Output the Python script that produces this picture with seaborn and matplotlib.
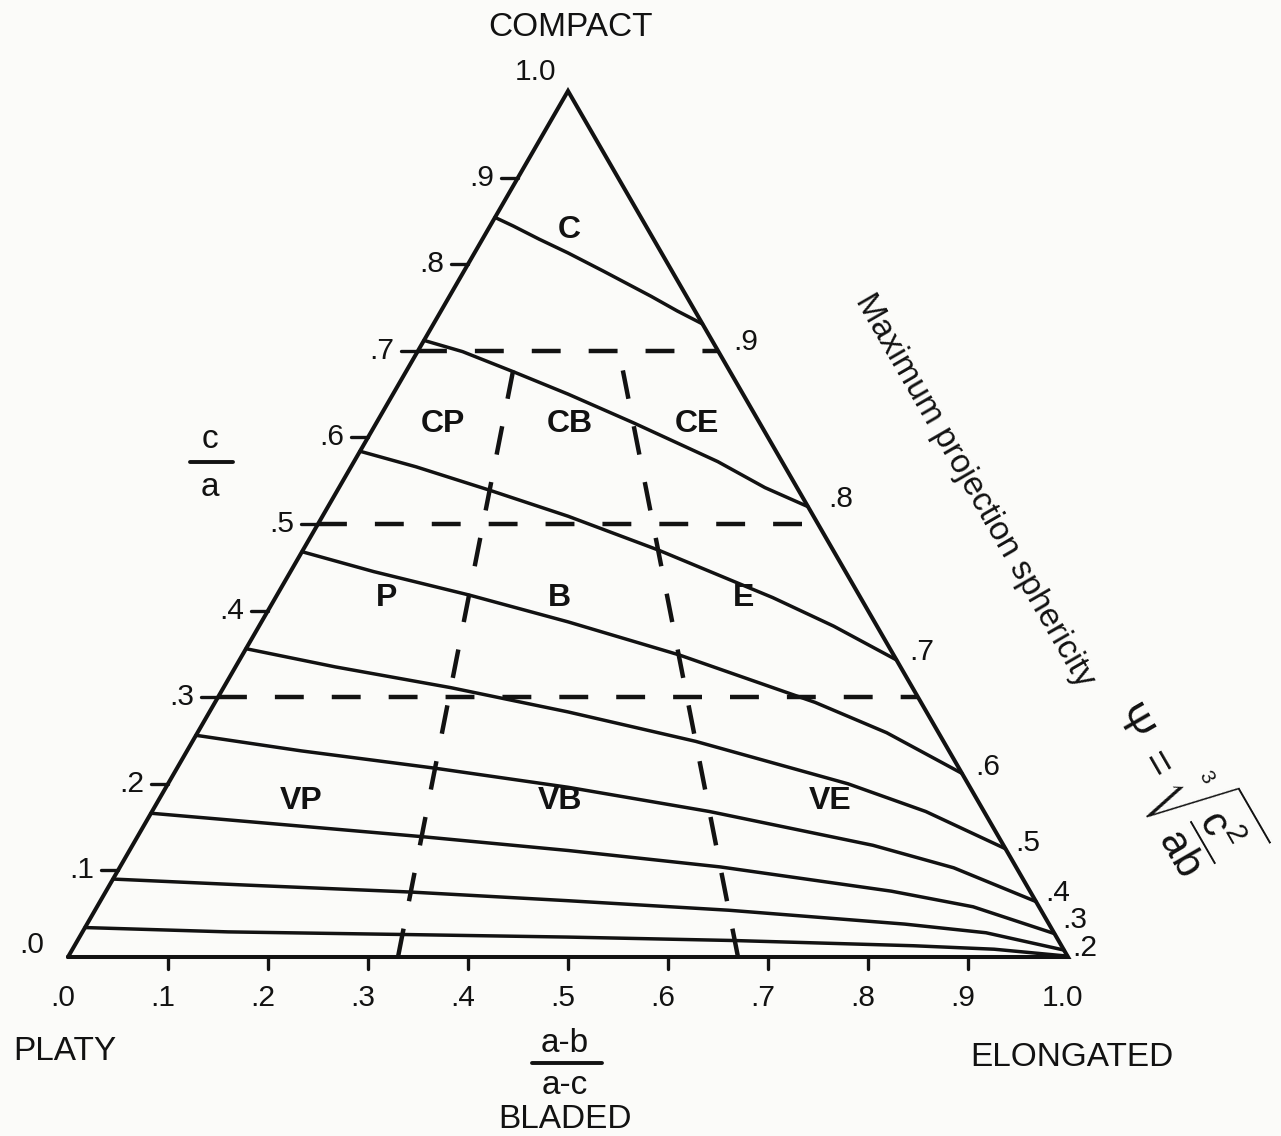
import matplotlib
matplotlib.use("Agg")
import matplotlib.pyplot as plt
import numpy as np
import pandas as pd
import seaborn as sns

# ---------------------------------------------------------------- data --
# (a-b)/(a-c) positions at which each sphericity isoline is sampled
form_samples = [0.00, 0.15, 0.33, 0.50, 0.67, 0.85, 0.93, 1.00]

# c/a along each maximum-projection-sphericity isoline
psi_levels = [0.9, 0.8, 0.7, 0.6, 0.5, 0.4, 0.3, 0.2, 0.1]
ca_psi_9 = [0.854, 0.844, 0.829, 0.813, 0.792, 0.763, 0.746, 0.731]
ca_psi_8 = [0.712, 0.699, 0.676, 0.650, 0.617, 0.572, 0.542, 0.520]
ca_psi_7 = [0.584, 0.566, 0.539, 0.509, 0.470, 0.415, 0.382, 0.343]
ca_psi_6 = [0.468, 0.445, 0.418, 0.387, 0.349, 0.294, 0.259, 0.212]
ca_psi_5 = [0.356, 0.335, 0.311, 0.283, 0.249, 0.200, 0.168, 0.125]
ca_psi_4 = [0.256, 0.238, 0.218, 0.196, 0.168, 0.129, 0.103, 0.064]
ca_psi_3 = [0.166, 0.154, 0.139, 0.123, 0.104, 0.076, 0.058, 0.027]
ca_psi_2 = [0.090, 0.083, 0.075, 0.065, 0.054, 0.038, 0.028, 0.008]
ca_psi_1 = [0.034, 0.029, 0.026, 0.023, 0.019, 0.013, 0.009, 0.001]
ca_isolines = [ca_psi_9, ca_psi_8, ca_psi_7, ca_psi_6, ca_psi_5,
               ca_psi_4, ca_psi_3, ca_psi_2, ca_psi_1]
psi_tick_labels = [".9", ".8", ".7", ".6", ".5", ".4", ".3", ".2", ""]

# class boundaries (dashed)
ca_breaks = [0.3, 0.5, 0.7]
form_breaks = [0.33, 0.67]

# axis ticks
ca_ticks = [0.0, 0.1, 0.2, 0.3, 0.4, 0.5, 0.6, 0.7, 0.8, 0.9]
ca_tick_labels = [".0", ".1", ".2", ".3", ".4", ".5", ".6", ".7", ".8", ".9"]
form_ticks = [0.0, 0.1, 0.2, 0.3, 0.4, 0.5, 0.6, 0.7, 0.8, 0.9, 1.0]
form_tick_labels = [".0", ".1", ".2", ".3", ".4", ".5", ".6", ".7", ".8",
                    ".9", "1.0"]

# shape classes, top row first
class_names = [["C"], ["CP", "CB", "CE"], ["P", "B", "E"], ["VP", "VB", "VE"]]

# -------------------------------------------------------------- layout --
H = np.sqrt(3) / 2          # triangle height per unit of base
INK = "#121212"
PAPER = "#fbfbf9"

# where class names sit, as (form, c/a)
class_rows_ca = [0.84, 0.615, 0.415, 0.18]
class_cols_form = [[0.51], [0.175, 0.505, 0.835], [0.19, 0.485, 0.80],
                   [0.175, 0.49, 0.82]]
# nudges of the sphericity values printed beside the right edge
psi_label_offsets = [(0.031, -0.018), (0.020, 0.008), (0.013, 0.008),
                     (0.013, 0.006), (0.010, 0.006), (0.009, 0.009),
                     (0.008, 0.014), (0.008, 0.002), (0.0, 0.0)]


def tern(form, ca):
    """(a-b)/(a-c), c/a  ->  cartesian position inside the triangle."""
    form = np.asarray(form, dtype=float)
    ca = np.asarray(ca, dtype=float)
    return ca / 2 + form * (1 - ca), ca * H


sns.set_theme(style="white")
plt.rcParams["font.family"] = ["Liberation Sans", "DejaVu Sans"]
plt.rcParams["mathtext.fontset"] = "custom"
plt.rcParams["mathtext.rm"] = "Liberation Sans"
plt.rcParams["mathtext.it"] = "Liberation Sans"
plt.rcParams["mathtext.bf"] = "Liberation Sans:bold"

fig = plt.figure(figsize=(12.81, 11.36), dpi=100, facecolor=PAPER)
ax = fig.add_axes([0, 0, 1, 1])
ax.set_facecolor(PAPER)
ax.set_xlim(-0.068, 1.213)
ax.set_ylim(-0.179, 0.957)
ax.set_aspect("equal")
ax.axis("off")

# sphericity isolines
rows = []
for psi, cas in zip(psi_levels, ca_isolines):
    xs, ys = tern(form_samples, cas)
    for i, (x, y) in enumerate(zip(xs, ys)):
        rows.append({"psi": psi, "step": i, "x": x, "y": y})
iso = pd.DataFrame(rows)
sns.lineplot(data=iso, x="x", y="y", units="psi", estimator=None, sort=False,
             color=INK, lw=2.5, legend=False, ax=ax)

# class boundaries
dash = (0, (6.5, 6.3))
for ca in ca_breaks:
    xs, ys = tern([0.0, 1.0], [ca, ca])
    ax.plot(xs, ys, color=INK, lw=3.2, ls=dash, dash_capstyle="butt")
for f in form_breaks:
    xs, ys = tern([f, f], [0.0, max(ca_breaks)])
    ax.plot(xs, ys, color=INK, lw=3.2, ls=dash, dash_capstyle="butt")

# triangle outline
xs, ys = tern([0, 1, 0, 0], [0, 0, 1, 0])
ax.plot(xs, ys, color=INK, lw=2.9, solid_joinstyle="miter")

# c/a ticks on the left edge
for ca, lab in zip(ca_ticks, ca_tick_labels):
    x0, y0 = tern(0.0, ca)
    if ca > 0:
        ax.plot([x0 - 0.017, x0], [y0, y0], color=INK, lw=2.4)
    dy = 0.012 if ca == 0 else 0.0
    ax.text(x0 - 0.024, y0 + dy, lab, ha="right", va="center",
            fontsize=21.5, color=INK)
xa, ya = tern(0.0, 1.0)
ax.text(xa - 0.012, ya + 0.019, "1.0", ha="right", va="center",
        fontsize=21.5, color=INK)

# (a-b)/(a-c) ticks along the base
for f, lab in zip(form_ticks, form_tick_labels):
    if 0 < f < 1:
        ax.plot([f, f], [0, -0.012], color=INK, lw=2.4)
    ax.text(f - 0.005, -0.041, lab, ha="center", va="center",
            fontsize=21.5, color=INK)

# sphericity values at the right edge
for cas, lab, (dx, dy) in zip(ca_isolines, psi_tick_labels,
                              psi_label_offsets):
    if not lab:
        continue
    x1, y1 = tern(1.0, cas[-1])
    ax.text(x1 + dx, y1 + dy, lab, ha="left", va="center",
            fontsize=21.5, color=INK)

# class names
for names, ca, forms in zip(class_names, class_rows_ca, class_cols_form):
    for name, f in zip(names, forms):
        x, y = tern(f, ca)
        ax.text(x, y, name, ha="center", va="center", fontsize=23,
                fontweight="bold", color=INK)

# end-member and axis titles
word = dict(ha="center", va="center", fontsize=24, color=INK)
ax.text(0.502, 0.929, "COMPACT", **word)
ax.text(-0.003, -0.094, "PLATY", **word)
ax.text(1.004, -0.101, "ELONGATED", **word)
ax.text(0.497, -0.086, "a-b", **word)
ax.plot([0.464, 0.534], [-0.106, -0.106], color=INK, lw=2.8)
ax.text(0.497, -0.128, "a-c", **word)
ax.text(0.497, -0.163, "BLADED", **word)

ax.text(0.142, 0.517, "c", **word)
ax.plot([0.122, 0.165], [0.495, 0.495], color=INK, lw=2.8)
ax.text(0.142, 0.470, "a", **word)

ax.text(0.907, 0.467, "Maximum projection sphericity", rotation=-60,
        rotation_mode="anchor", ha="center", va="center", fontsize=24,
        color=INK)
ax.text(1.114, 0.174,
        r"$\Psi\ =\ \sqrt[3]{\dfrac{\mathrm{c}^{2}}{\mathrm{ab}}}$",
        rotation=-60, rotation_mode="anchor", ha="center", va="center",
        fontsize=30, color=INK)

fig.savefig("out.png", dpi=100, facecolor=PAPER)
